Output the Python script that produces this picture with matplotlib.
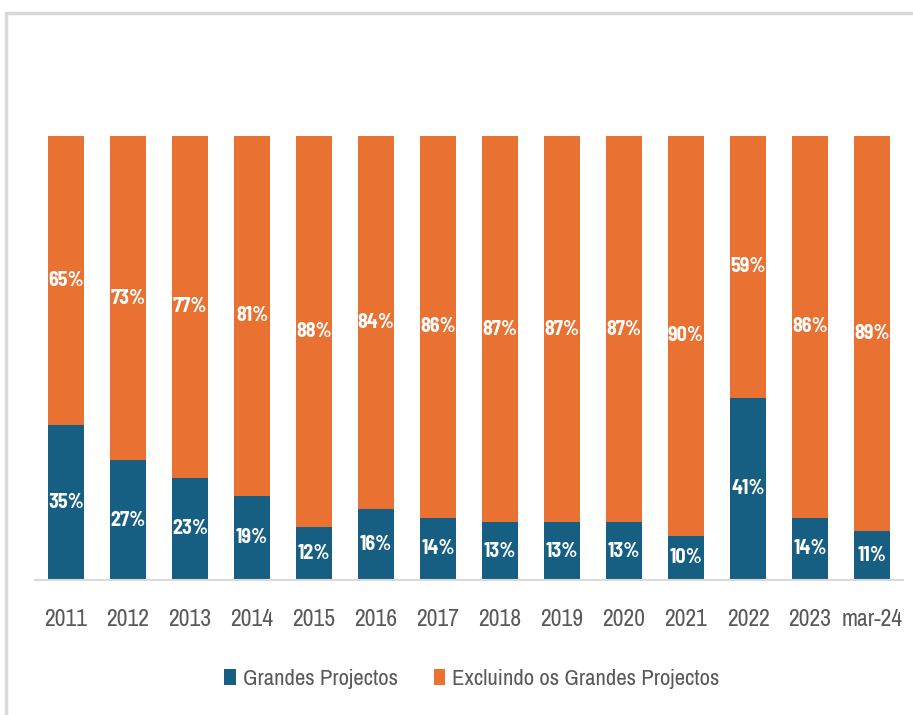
import matplotlib.pyplot as plt
from matplotlib.patches import Rectangle

plt.rcParams['font.family'] = ['Archivo Narrow', 'DejaVu Sans']

anos = ['2011', '2012', '2013', '2014', '2015', '2016', '2017', '2018', '2019', '2020',
        '2021', '2022', '2023', 'mar-24']
grandes = [35, 27, 23, 19, 12, 16, 14, 13, 13, 13, 10, 41, 14, 11]
excluindo = [65, 73, 77, 81, 88, 84, 86, 87, 87, 87, 90, 59, 86, 89]

azul = '#175F82'
laranja = '#E97132'

fig = plt.figure(figsize=(9.13, 7.15), dpi=100)
# moldura cinzenta do gráfico
fig.patches.append(Rectangle((5.5 / 913, -0.1), 1.2, 1 - 13.5 / 715 + 0.1, transform=fig.transFigure,
                             fill=False, edgecolor='#D9D9D9', linewidth=2.5))

ax = fig.add_axes([35 / 913, 1 - 580 / 715, 868 / 913, 444 / 715])
x = range(len(anos))
b1 = ax.bar(x, grandes, width=0.57, color=azul, label='Grandes Projectos')
b2 = ax.bar(x, excluindo, width=0.57, bottom=grandes, color=laranja, label='Excluindo os Grandes Projectos')

rotulo = dict(ha='center', va='center', color='white', fontsize=14.5, fontweight='bold',
              family=['Barlow Semi Condensed', 'DejaVu Sans'])
for i in x:
    ax.text(i, grandes[i] / 2, f'{grandes[i]}%', **rotulo)
    ax.text(i, grandes[i] + excluindo[i] / 2, f'{excluindo[i]}%', **rotulo)

ax.set_xlim(-0.5, len(anos) - 0.5)
ax.set_ylim(0, 100)
ax.set_xticks(list(x))
ax.set_xticklabels(anos, fontsize=17, color='#595959')
ax.tick_params(axis='x', length=0, pad=21)
ax.set_yticks([])
for s in ['top', 'right', 'left']:
    ax.spines[s].set_visible(False)
ax.spines['bottom'].set_color('#D9D9D9')
ax.spines['bottom'].set_linewidth(1.5)

fig.legend(handles=[b1, b2], loc='center', bbox_to_anchor=(472 / 913, 1 - 679 / 715), ncol=2,
           frameon=False, fontsize=16.4, labelcolor='#595959', handlelength=0.5, handleheight=0.7,
           handletextpad=0.3, columnspacing=1.6)

plt.savefig('out.png', dpi=100)
